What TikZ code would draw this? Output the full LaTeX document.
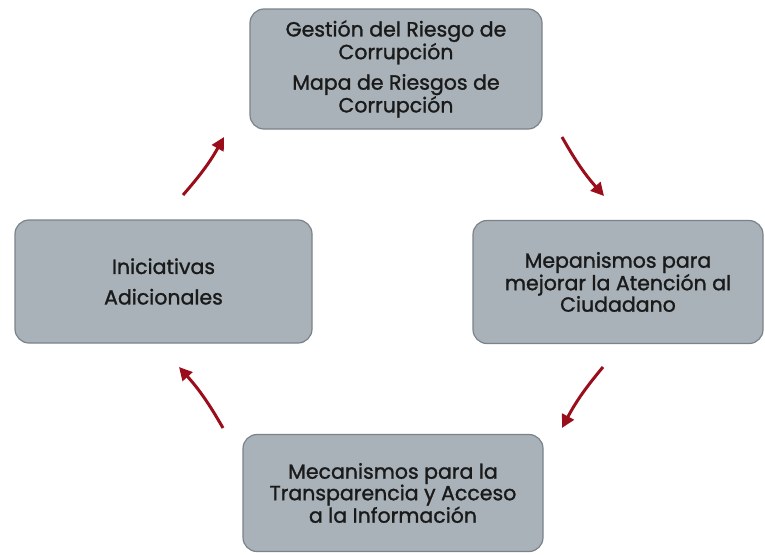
\documentclass[tikz,border=0pt]{standalone}
\usepackage{fontspec}
\setmainfont{Poppins}[FakeBold=1.3]
\usetikzlibrary{arrows.meta}
\definecolor{boxfill}{HTML}{A8B2B8}
\definecolor{boxline}{HTML}{7A838A}
\definecolor{arrowred}{HTML}{9A0E1C}
\definecolor{txt}{HTML}{1A1A1A}
\tikzset{
  stagebox/.style={draw=boxline, line width=1.2pt, fill=boxfill, rounded corners=14pt,
    text=txt, align=center, inner sep=0pt,
    font=\fontsize{20.5}{21.5}\selectfont},
  cyclearrow/.style={draw=arrowred, line width=3pt,
    -{Triangle[length=13pt,width=13pt]}}
}
\begin{document}
\begin{tikzpicture}[x=1pt,y=-1pt]
\useasboundingbox (0,0) rectangle (765,554);
\node[stagebox, minimum width=292pt, minimum height=120pt] (top) at (396,69)
  {Gestión del Riesgo de\\Corrupción\\[9pt]Mapa de Riesgos de\\Corrupción};
\node[stagebox, minimum width=290pt, minimum height=123pt] (right) at (618,282)
  {Mepanismos para\\mejorar la Atención al\\Ciudadano};
\node[stagebox, minimum width=297pt, minimum height=123pt] (left) at (163.5,281.5)
  {Iniciativas\\[9pt]Adicionales};
\node[stagebox, minimum width=300pt, minimum height=117pt] (bottom) at (393,493)
  {Mecanismos para la\\Transparencia y Acceso\\a la Información};
\coordinate (a1s) at (183,195); \coordinate (a1e) at (224,137);
\coordinate (a2s) at (562,137); \coordinate (a2e) at (604,196);
\coordinate (a3s) at (603,367); \coordinate (a3e) at (562,428);
\coordinate (a4s) at (223,428); \coordinate (a4e) at (179,367);
\draw[cyclearrow] (a1s) to[bend right=6] (a1e);
\draw[cyclearrow] (a2s) to[bend right=6] (a2e);
\draw[cyclearrow] (a3s) to[bend right=6] (a3e);
\draw[cyclearrow] (a4s) to[bend right=6] (a4e);
\end{tikzpicture}
\end{document}
